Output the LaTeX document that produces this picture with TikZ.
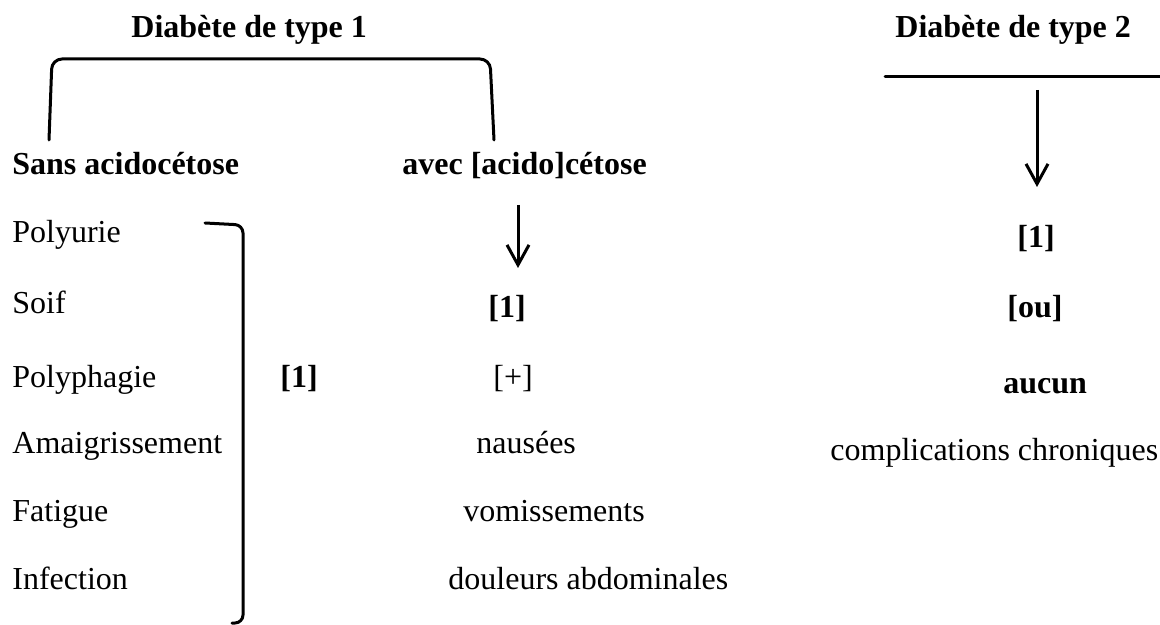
\documentclass[tikz,border=0pt]{standalone}
\usepackage{fontspec}
\setmainfont{Liberation Serif}
\usetikzlibrary{arrows.meta}
\begin{document}
\begin{tikzpicture}[x=0.5pt,y=-0.5pt,
  txt/.style={anchor=base west,inner sep=0pt,font=\fontsize{16}{19}\selectfont},
  btxt/.style={txt,font=\fontsize{16}{19}\selectfont\bfseries},
  line/.style={line width=1.5pt,line cap=round,line join=round},
  arr/.style={line width=1.5pt,-{Straight Barb[length=10pt,width=11pt,line width=1.5pt]}}]
\useasboundingbox (0,0) rectangle (1160,625);
% titles
\node[btxt] (t1) at (131,38) {Diabète de type 1};
\node[btxt] (t2) at (895,38) {Diabète de type 2};
% bracket type 1
\draw[line,rounded corners=5pt] (49,140) -- (52,59) -- (490,59) -- (494,140);
% line type 2
\draw[line] (885,77) -- (1160,77);
% subheads
\node[btxt] (sans) at (12,175) {Sans acidocétose};
\node[btxt] (avec) at (402,175) {avec [acido]cétose};
% left list
\node[txt] (l1) at (12,243) {Polyurie};
\node[txt] (l2) at (12,314) {Soif};
\node[txt] (l3) at (12,387) {Polyphagie};
\node[txt] (l4) at (12,453) {Amaigrissement};
\node[txt] (l5) at (12,521) {Fatigue};
\node[txt] (l6) at (12,589) {Infection};
% left bracket
\draw[line,rounded corners=4pt] (205,223) -- (243,225) -- (243,623) -- (232,623);
\node[btxt] (lb) at (280,387) {[1]};
% middle column
\coordinate (ma) at (518,205);
\coordinate (mb) at (518,268);
\draw[arr] (ma) -- (mb);
\node[btxt] (m1) at (488,317) {[1]};
\node[txt] (m2) at (493,387) {[+]};
\node[txt] (m3) at (476,453) {nausées};
\node[txt] (m4) at (463,521) {vomissements};
\node[txt] (m5) at (448,589) {douleurs abdominales};
% right column
\coordinate (ra) at (1037,90);
\coordinate (rb) at (1037,187);
\draw[arr] (ra) -- (rb);
\node[btxt] (r1) at (1017,248) {[1]};
\node[btxt] (r2) at (1007,317) {[ou]};
\node[btxt] (r3) at (1003,393) {aucun};
\node[txt] (r4) at (830,460) {complications chroniques};
\end{tikzpicture}
\end{document}
